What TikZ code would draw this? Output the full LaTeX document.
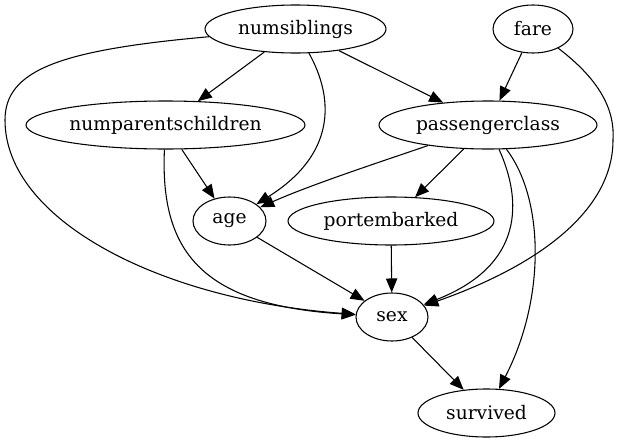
\documentclass[tikz,border=0pt]{standalone}
\usepackage{fontspec}
\setmainfont{DejaVu Serif}
\usetikzlibrary{shapes.geometric,arrows.meta}
\begin{document}
\begin{tikzpicture}[x=0.75pt,y=-0.75pt,
  nd/.style={ellipse,draw,line width=0.8pt,inner sep=0pt,minimum height=36pt,
    font=\fontsize{14pt}{16pt}\selectfont},
  edge/.style={draw,line width=0.8pt,-{Triangle[length=10.5pt,width=8.5pt]}}]
\useasboundingbox (0,0) rectangle (619,443);
\node[nd,minimum width=135.75pt] (numsiblings) at (295.5,29) {numsiblings};
\node[nd,minimum width=60pt] (fare) at (533,29) {fare};
\node[nd,minimum width=209.25pt] (numparentschildren) at (165.5,125) {numparentschildren};
\node[nd,minimum width=163.5pt] (passengerclass) at (488,125) {passengerclass};
\node[nd,minimum width=54.75pt] (age) at (229.5,221) {age};
\node[nd,minimum width=154.5pt] (portembarked) at (391,221) {portembarked};
\node[nd,minimum width=54pt] (sex) at (392,317) {sex};
\node[nd,minimum width=102.75pt] (survived) at (486.5,413) {survived};
\coordinate (w1) at (5,120);
\coordinate (w2) at (613,140);
% edges
\draw[edge] (numsiblings) -- (numparentschildren);
\draw[edge] (numsiblings) -- (passengerclass);
\draw[edge] (numsiblings) .. controls (335,100) and (335,155) .. (age);
\draw[edge] (numsiblings) .. controls (60,50) and (5,70) .. (w1)
  .. controls (5,220) and (160,300) .. (sex);
\draw[edge] (fare) -- (passengerclass);
\draw[edge] (fare) .. controls (600,80) and (615,110) .. (w2)
  .. controls (613,210) and (540,265) .. (sex);
\draw[edge] (numparentschildren) -- (age);
\draw[edge] (numparentschildren) .. controls (160,250) and (200,305) .. (sex);
\draw[edge] (passengerclass) .. controls (380,162) and (310,185) .. (age);
\draw[edge] (passengerclass) -- (portembarked);
\draw[edge] (passengerclass) .. controls (522,200) and (525,265) .. (sex);
\draw[edge] (passengerclass) .. controls (545,200) and (545,300) .. (survived);
\draw[edge] (portembarked) -- (sex);
\draw[edge] (age) -- (sex);
\draw[edge] (sex) -- (survived);
\end{tikzpicture}
\end{document}
